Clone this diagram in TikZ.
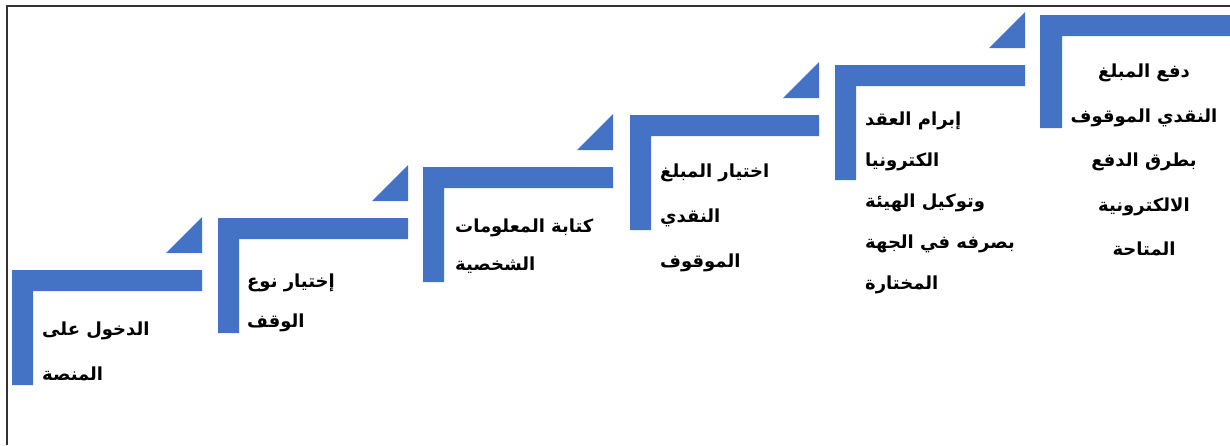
\documentclass[tikz,border=0pt]{standalone}
\usepackage{fontspec}
\newfontfamily\arabicfont[Script=Arabic]{DejaVu Sans}
\TeXXeTstate=1
\definecolor{stepblue}{HTML}{4472C4}
\definecolor{framegray}{HTML}{333333}
\tikzset{
  steptext/.style={inner sep=0pt, text=black, font=\arabicfont\bfseries\fontsize{18}{#1}\selectfont},
  stepfill/.style={fill=stepblue},
}
\begin{document}
\begin{tikzpicture}[x=1pt,y=-1pt]
\useasboundingbox (0,0) rectangle (1230,445);
\draw[line width=2pt, framegray] (7,445) -- (7,6) -- (1230,6);
\foreach \L/\T/\R in {12/270/202, 218/218/408, 423/167/613, 630/115/819, 835/65/1025}{
  \fill[stepfill] (\L,\T) -- (\R,\T) -- (\R,\T+21) -- (\L+21,\T+21) -- (\L+21,\T+115) -- (\L,\T+115) -- cycle;
  \fill[stepfill] (\R,\T-53) -- (\R,\T-17) -- (\R-36,\T-17) -- cycle;
}
\fill[stepfill] (1040,15) -- (1240,15) -- (1240,36) -- (1062,36) -- (1062,128) -- (1040,128) -- cycle;
\node[steptext=45, anchor=north west, align=left] (t1) at (42,322)
  {\beginR الدخول على\endR\\\beginR المنصة\endR};
\node[steptext=40, anchor=north west, align=left] (t2) at (247,274)
  {\beginR إختيار نوع\endR\\\beginR الوقف\endR};
\node[steptext=38, anchor=north west, align=left] (t3) at (455,219)
  {\beginR كتابة المعلومات\endR\\\beginR الشخصية\endR};
\node[steptext=45, anchor=north west, align=left] (t4) at (660,164)
  {\beginR اختيار المبلغ\endR\\\beginR النقدي\endR\\\beginR الموقوف\endR};
\node[steptext=41, anchor=north west, align=left] (t5) at (865,112)
  {\beginR إبرام العقد\endR\\\beginR الكترونيا\endR\\\beginR وتوكيل الهيئة\endR\\\beginR بصرفه في الجهة\endR\\\beginR المختارة\endR};
\node[steptext=44.5, anchor=north, align=center] (t6) at (1144,64)
  {\beginR دفع المبلغ\endR\\\beginR النقدي الموقوف\endR\\\beginR بطرق الدفع\endR\\\beginR الالكترونية\endR\\\beginR المتاحة\endR};
\end{tikzpicture}
\end{document}
